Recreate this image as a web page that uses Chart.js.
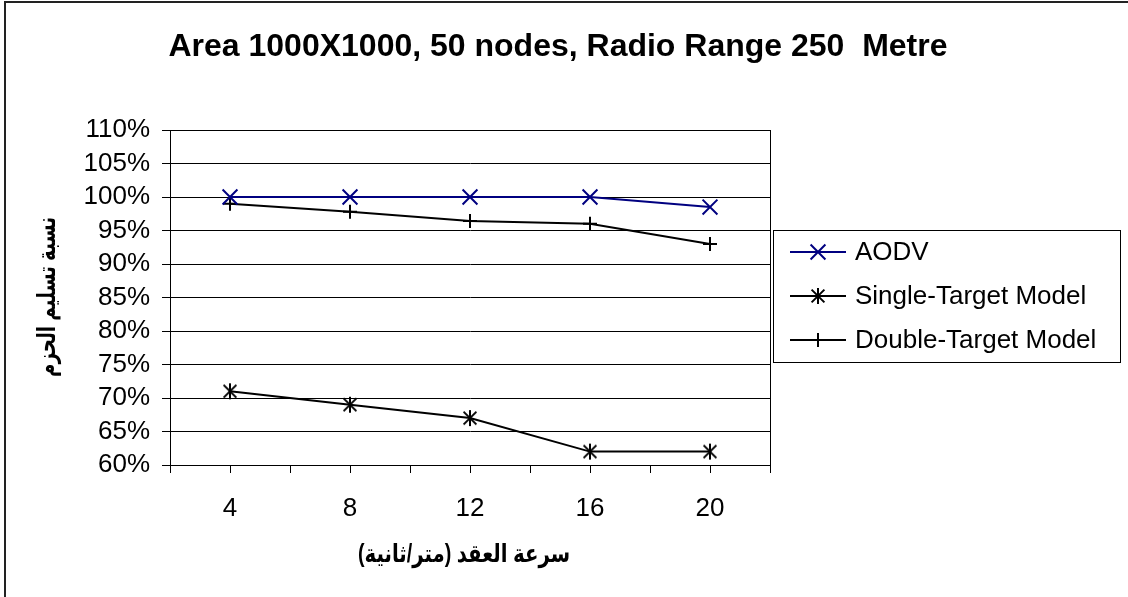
<!DOCTYPE html>
<html>
<head>
<meta charset="utf-8">
<script src="https://cdn.jsdelivr.net/npm/chart.js@4.4.1/dist/chart.umd.min.js"></script>
<style>
  html, body { margin: 0; padding: 0; background: #fff; }
  #wrap { width: 1128px; height: 597px; }
</style>
</head>
<body>
<div id="wrap"><canvas id="c" width="1128" height="597"></canvas></div>
<script>
// Node speed categories (m/s)
const speeds = ['4', '8', '12', '16', '20'];
// Packet delivery ratio (%) per protocol
const aodv = [100, 100, 100, 100, 98.5];
const singleTarget = [71, 69, 67, 62, 62];
const doubleTarget = [99, 97.8, 96.4, 96, 93];
const seriesNames = ['AODV', 'Single-Target Model', 'Double-Target Model'];
const chartTitle = 'Area 1000X1000, 50 nodes, Radio Range 250  Metre';
const xTitle = 'سرعة العقد (متر/ثانية)';
const yTitle = 'نسبة تسليم الحزم';

const FAMILY = "'Liberation Sans', Arial, 'DejaVu Sans', sans-serif";
const NAVY = '#000080';

// asterisk marker: vertical bar plus an X
function asterisk(color, r, lw) {
  const s = Math.ceil(2 * r + lw + 2);
  const c = document.createElement('canvas');
  c.width = s; c.height = s;
  const g = c.getContext('2d');
  const m = s / 2, d = r * 0.8;
  g.strokeStyle = color; g.lineWidth = lw;
  g.beginPath();
  g.moveTo(m, m - r); g.lineTo(m, m + r);
  g.moveTo(m - d, m - d); g.lineTo(m + d, m + d);
  g.moveTo(m + d, m - d); g.lineTo(m - d, m + d);
  g.stroke();
  return c;
}
const starImg = asterisk('#000', 8, 2);

// Arabic caption drawn right-to-left, condensed to a given run length
function drawCaption(ctx, text, x, y, angle, length) {
  ctx.save();
  ctx.direction = 'rtl';
  ctx.font = 'bold 25px ' + FAMILY;
  ctx.textAlign = 'center';
  ctx.textBaseline = 'middle';
  const w = ctx.measureText(text).width;
  ctx.translate(x, y);
  ctx.rotate(angle);
  ctx.scale(Math.min(1, length / w), 1);
  ctx.fillText(text, 0, 0);
  ctx.restore();
}

const frame = {
  id: 'frame',
  beforeDraw(chart) {
    const ctx = chart.ctx;
    ctx.save();
    ctx.fillStyle = '#fff';
    ctx.fillRect(0, 0, chart.width, chart.height);
    // outer frame (top and left edges fall inside the canvas)
    ctx.fillStyle = '#222';
    ctx.fillRect(4, 1, chart.width - 4, 2);
    ctx.fillRect(4, 1, 2, chart.height - 1);
    ctx.restore();
  },
  afterDraw(chart) {
    const ctx = chart.ctx;
    const a = chart.chartArea;
    ctx.save();
    // plot area outline
    ctx.strokeStyle = '#000';
    ctx.lineWidth = 1;
    ctx.strokeRect(Math.round(a.left) + 0.5, Math.round(a.top) + 0.5,
                   Math.round(a.right - a.left), Math.round(a.bottom - a.top));
    // chart title
    ctx.fillStyle = '#000';
    ctx.textAlign = 'center';
    ctx.textBaseline = 'middle';
    ctx.font = 'bold 32px ' + FAMILY;
    ctx.fillText(chartTitle, 558, 47);
    ctx.restore();
    // axis captions
    ctx.fillStyle = '#000';
    drawCaption(ctx, xTitle, 464, 555, 0, 212);
    drawCaption(ctx, yTitle, 48, 297, -Math.PI / 2, 160);

    // legend
    ctx.save();
    ctx.strokeStyle = '#000';
    ctx.lineWidth = 1;
    ctx.strokeRect(773.5, 230.5, 347, 132);
    chart.data.datasets.forEach((ds, i) => {
      const y = 252 + i * 44;
      ctx.strokeStyle = ds.borderColor;
      ctx.lineWidth = ds.borderWidth;
      ctx.beginPath();
      ctx.moveTo(790, y);
      ctx.lineTo(846, y);
      ctx.stroke();
      ctx.strokeStyle = ds.pointBorderColor;
      ctx.fillStyle = 'rgba(0,0,0,0)';
      ctx.lineWidth = ds.pointBorderWidth;
      Chart.helpers.drawPoint(ctx, {
        pointStyle: ds.pointStyle, radius: ds.pointRadius,
        borderWidth: ds.pointBorderWidth, rotation: 0
      }, 818, y);
      ctx.fillStyle = '#000';
      ctx.font = '26px ' + FAMILY;
      ctx.textAlign = 'left';
      ctx.textBaseline = 'middle';
      ctx.fillText(ds.label, 855, y + 1);
    });
    ctx.restore();
  }
};

new Chart(document.getElementById('c'), {
  type: 'line',
  data: {
    labels: speeds,
    datasets: [
      {
        label: seriesNames[0], data: aodv,
        borderColor: NAVY, borderWidth: 2,
        pointStyle: 'crossRot', pointRadius: 10.5,
        pointBorderColor: NAVY, pointBorderWidth: 2,
        pointBackgroundColor: 'rgba(0,0,0,0)'
      },
      {
        label: seriesNames[1], data: singleTarget,
        borderColor: '#000', borderWidth: 2,
        pointStyle: starImg, pointRadius: 8,
        pointBorderColor: '#000', pointBorderWidth: 2,
        pointBackgroundColor: 'rgba(0,0,0,0)'
      },
      {
        label: seriesNames[2], data: doubleTarget,
        borderColor: '#000', borderWidth: 2,
        pointStyle: 'cross', pointRadius: 7,
        pointBorderColor: '#000', pointBorderWidth: 2,
        pointBackgroundColor: 'rgba(0,0,0,0)'
      }
    ]
  },
  options: {
    responsive: false,
    animation: false,
    devicePixelRatio: 1,
    layout: { padding: { left: 0, top: 130, right: 358, bottom: 0 } },
    plugins: { legend: { display: false }, title: { display: false }, tooltip: { enabled: false } },
    elements: { line: { tension: 0 } },
    scales: {
      y: {
        min: 60, max: 110,
        ticks: {
          stepSize: 5, autoSkip: false, callback: v => v + '%',
          font: { size: 26, family: FAMILY }, color: '#000', padding: 12
        },
        grid: { color: '#000', tickColor: '#000', tickLength: 8, lineWidth: 1 },
        border: { color: '#000', width: 1 },
        afterFit(s) { s.width = 170; }
      },
      x: {
        weight: 1,
        offset: true,
        ticks: { font: { size: 26, family: FAMILY }, color: '#000', padding: 20, maxRotation: 0, autoSkip: false },
        grid: { offset: true, drawOnChartArea: false, tickLength: 8, color: '#000' },
        border: { color: '#000', width: 1 },
        afterFit(s) { s.height = 132; }
      },
      x2: {
        type: 'category',
        position: 'bottom',
        weight: 0,
        offset: true,
        ticks: { display: false },
        grid: { offset: false, drawOnChartArea: false, tickLength: 8, color: '#000' },
        border: { display: false },
        afterFit(s) { s.height = 0; }
      }
    }
  },
  plugins: [frame]
});
</script>
</body>
</html>
